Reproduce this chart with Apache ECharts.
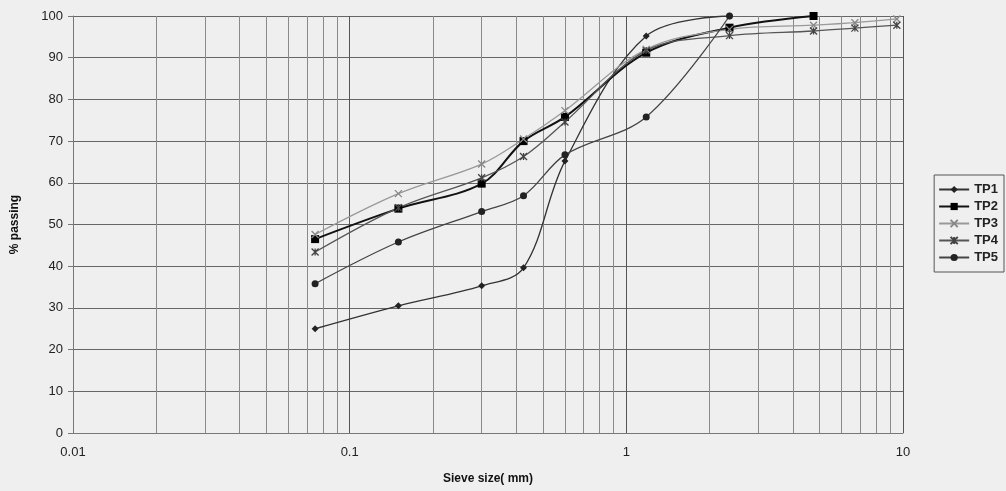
<!DOCTYPE html>
<html>
<head>
<meta charset="utf-8">
<script src="https://cdn.jsdelivr.net/npm/echarts@6/dist/echarts.min.js"></script>
<style>
html,body{margin:0;padding:0;background:#efefef;}
#chart{width:1006px;height:491px;}
</style>
</head>
<body>
<div id="chart"></div>
<script>
var sieve = [0.075, 0.15, 0.3, 0.425, 0.6, 1.18, 2.36, 4.75, 6.7, 9.5];
var TP1 = [25, 30.5, 35.3, 39.6, 65.2, 95.2, 100];
var TP2 = [46.5, 53.8, 59.8, 70, 75.8, 91.2, 97.2, 100];
var TP3 = [47.6, 57.4, 64.5, 70.5, 77.3, 92, 96.8, 97.8, 98.4, 99.3];
var TP4 = [43.4, 54, 61.2, 66.3, 74.6, 91.7, 95.3, 96.4, 97.1, 97.8];
var TP5 = [35.8, 45.8, 53.1, 56.9, 66.7, 75.8, 100];
var yTicks = [0, 10, 20, 30, 40, 50, 60, 70, 80, 90, 100];

function pairs(vals) {
  return vals.map(function (v, i) { return [sieve[i], v]; });
}
var minorLines = [];
[0.01, 0.1, 1].forEach(function (d) {
  for (var k = 2; k <= 9; k++) minorLines.push({ xAxis: +(d * k).toPrecision(3) });
});

var xPath = 'path://M0,0L10,10M10,0L0,10';
var starPath = 'path://M0,0L10,10M10,0L0,10M5,0L5,10';

var chart = echarts.init(document.getElementById('chart'));
var font = 'Liberation Sans, Arial, sans-serif';
function mk(name, vals, opt) {
  return Object.assign({
    name: name,
    type: 'line',
    data: pairs(vals),
    smooth: 0.35,
    animation: false,
    z: 5
  }, opt);
}
chart.setOption({
  backgroundColor: '#efefef',
  animation: false,
  textStyle: { fontFamily: font },
  grid: { left: 73, right: 103, top: 16, bottom: 58 },
  legend: {
    orient: 'vertical',
    right: 2,
    top: 175,
    padding: [8, 6, 8, 4],
    itemGap: 4,
    itemWidth: 30,
    itemHeight: 9,
    borderColor: '#555',
    borderWidth: 1,
    textStyle: { fontSize: 13, fontWeight: 'bold', color: '#222', fontFamily: font },
    data: ['TP1', 'TP2', 'TP3', 'TP4', 'TP5']
  },
  xAxis: {
    type: 'log',
    logBase: 10,
    min: 0.01,
    max: 10,
    name: 'Sieve size( mm)',
    nameLocation: 'middle',
    nameGap: 40,
    nameTextStyle: { fontSize: 12, fontWeight: 'bold', color: '#111', fontFamily: font },
    axisLine: { lineStyle: { color: '#777', width: 1 } },
    axisTick: { show: false },
    axisLabel: { fontSize: 13, color: '#222', margin: 13, fontFamily: font },
    splitLine: { show: true, lineStyle: { color: '#555', width: 1 } }
  },
  yAxis: {
    type: 'value',
    min: 0,
    max: 100,
    interval: 10,
    name: '% passing',
    nameLocation: 'middle',
    nameGap: 52,
    nameTextStyle: { fontSize: 12, fontWeight: 'bold', color: '#111', fontFamily: font },
    axisLine: { show: true, lineStyle: { color: '#777', width: 1 } },
    axisTick: { show: true, length: 5, lineStyle: { color: '#777' } },
    axisLabel: { fontSize: 13, color: '#222', margin: 10, fontFamily: font,
      formatter: function (v) { return yTicks.indexOf(v) >= 0 ? String(v) : ''; } },
    splitLine: { show: true, lineStyle: { color: '#666', width: 1 } }
  },
  series: [
    mk('TP1', TP1, {
      symbol: 'diamond', symbolSize: 7,
      lineStyle: { color: '#333', width: 1.3 },
      itemStyle: { color: '#222' },
      markLine: {
        silent: true, symbol: ['none', 'none'], label: { show: false },
        lineStyle: { color: '#8a8a8a', width: 1, type: 'solid' },
        emphasis: { disabled: true },
        data: minorLines, z: 1
      }
    }),
    mk('TP2', TP2, {
      symbol: 'rect', symbolSize: 8,
      lineStyle: { color: '#111', width: 2 },
      itemStyle: { color: '#000' }
    }),
    mk('TP3', TP3, {
      symbol: xPath, symbolSize: 7,
      lineStyle: { color: '#999', width: 1.3 },
      itemStyle: { color: 'rgba(0,0,0,0)', borderColor: '#888', borderWidth: 1.3 }
    }),
    mk('TP4', TP4, {
      symbol: starPath, symbolSize: 7,
      lineStyle: { color: '#555', width: 1.3 },
      itemStyle: { color: 'rgba(0,0,0,0)', borderColor: '#444', borderWidth: 1.3 }
    }),
    mk('TP5', TP5, {
      symbol: 'circle', symbolSize: 7,
      lineStyle: { color: '#444', width: 1.3 },
      itemStyle: { color: '#222' }
    })
  ]
});
</script>
</body>
</html>
